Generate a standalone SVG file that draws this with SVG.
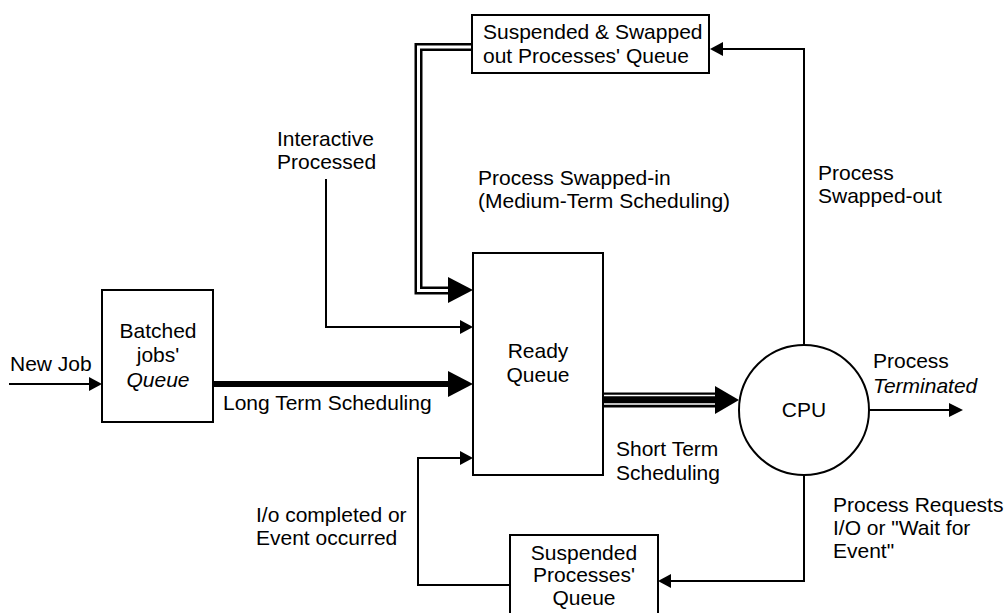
<svg xmlns="http://www.w3.org/2000/svg" width="1007" height="613" viewBox="0 0 1007 613">
<style>
.t{font-family:"Liberation Sans",Arial,Helvetica,sans-serif;font-size:21px;fill:#000}
.i{font-style:italic}
.c{text-anchor:middle}
.box{fill:#fff;stroke:#000;stroke-width:2}
.ln{fill:none;stroke:#000;stroke-width:2}
.ah{fill:#000;stroke:none}
</style>
<rect width="1007" height="613" fill="#fff"/>
<g id="connectors">
  <!-- New Job -->
  <line class="ln" x1="9" y1="384" x2="92" y2="384"/>
  <polygon class="ah" points="102,384 89,377 89,391"/>
  <!-- Long term scheduling -->
  <line x1="213" y1="384" x2="452" y2="384" stroke="#000" stroke-width="6"/>
  <polygon class="ah" points="473,384 448,371 448,397"/>
  <!-- Interactive -->
  <polyline class="ln" points="326,179 326,327 462,327"/>
  <polygon class="ah" points="473,327 460,320 460,334"/>
  <!-- swapped-in double line -->
  <polyline points="473,47 418.5,47 418.5,290.5 452,290.5" fill="none" stroke="#000" stroke-width="8"/>
  <polyline points="473,47 418.5,47 418.5,290.5 452,290.5" fill="none" stroke="#fff" stroke-width="3"/>
  <polygon class="ah" points="473,290 448,277 448,303"/>
  <!-- short term triple line -->
  <line x1="603" y1="400" x2="719" y2="400" stroke="#000" stroke-width="15"/>
  <line x1="603" y1="395.5" x2="716" y2="395.5" stroke="#fff" stroke-width="1.5"/>
  <line x1="603" y1="404" x2="716" y2="404" stroke="#fff" stroke-width="1.5"/>
  <polygon class="ah" points="739,400 715,386 715,414"/>
  <!-- swapped-out -->
  <polyline class="ln" points="804,345 804,49 722,49"/>
  <polygon class="ah" points="710,49 723,42 723,56"/>
  <!-- terminated -->
  <line class="ln" x1="869" y1="410" x2="952" y2="410"/>
  <polygon class="ah" points="963,410 949,403 949,417"/>
  <!-- I/O request -->
  <polyline class="ln" points="804,475 804,581 670,581"/>
  <polygon class="ah" points="658,581 671,574 671,588"/>
  <!-- I/O completed -->
  <polyline class="ln" points="510,585 418,585 418,458 462,458"/>
  <polygon class="ah" points="473,458 460,451 460,465"/>
</g>
<g id="swapped-queue">
  <rect class="box" x="472" y="15" width="237" height="58"/>
  <text class="t" x="483" y="39">Suspended &amp; Swapped</text>
  <text class="t" x="483" y="63">out Processes' Queue</text>
</g>
<g id="batched-queue">
  <rect class="box" x="102" y="290" width="111" height="132"/>
  <text class="t c" x="158" y="338">Batched</text>
  <text class="t c" x="158" y="362">jobs'</text>
  <text class="t c i" x="158" y="387">Queue</text>
</g>
<g id="ready-queue">
  <rect class="box" x="473" y="253" width="130" height="222"/>
  <text class="t c" x="538" y="358">Ready</text>
  <text class="t c" x="538" y="382">Queue</text>
</g>
<g id="cpu">
  <circle cx="804" cy="410" r="65" fill="#fff" stroke="#000" stroke-width="2"/>
  <text class="t c" x="804" y="417">CPU</text>
</g>
<g id="suspended-queue">
  <rect class="box" x="510" y="535" width="148" height="85"/>
  <text class="t c" x="584" y="560">Suspended</text>
  <text class="t c" x="584" y="582">Processes'</text>
  <text class="t c" x="584" y="605">Queue</text>
</g>
<g id="labels">
  <text class="t" x="10" y="371">New Job</text>
  <text class="t" x="223" y="410">Long Term Scheduling</text>
  <text class="t" x="277" y="146">Interactive</text>
  <text class="t" x="277" y="169">Processed</text>
  <text class="t" x="478" y="185">Process Swapped-in</text>
  <text class="t" x="478" y="208">(Medium-Term Scheduling)</text>
  <text class="t" x="818" y="180">Process</text>
  <text class="t" x="818" y="203">Swapped-out</text>
  <text class="t" x="873" y="368">Process</text>
  <text class="t i" x="873" y="393">Terminated</text>
  <text class="t" x="616" y="456">Short Term</text>
  <text class="t" x="616" y="480">Scheduling</text>
  <text class="t" x="256" y="522">I/o completed or</text>
  <text class="t" x="256" y="545">Event occurred</text>
  <text class="t" x="833" y="512">Process Requests</text>
  <text class="t" x="833" y="535">I/O or "Wait for</text>
  <text class="t" x="833" y="558">Event"</text>
</g>
</svg>
